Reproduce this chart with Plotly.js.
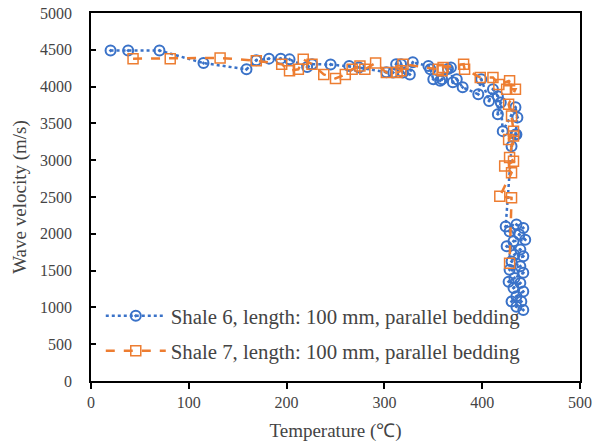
<!DOCTYPE html>
<html>
<head>
<meta charset="utf-8">
<script src="https://cdn.plot.ly/plotly-3.0.1.min.js"></script>
<style>html,body{margin:0;padding:0;background:#fff}#chart{width:604px;height:446px}</style>
</head>
<body>
<div id="chart"></div>
<script>
// Shale 6 (blue circles, dotted line)
const temp6 = [20,38,70,115,159,169,182,194,203,221,226,245,264,274,302,309,312,317,319,326,329,345,347,350,357,359,365,368,370,374,380,396,399,407,411,416,416,419,421,434,436,434,435,430,424,435,442,428,438,444,432,425,439,433,442,430,439,428,442,433,427,439,432,442,435,430,440,435,442];
const vel6  = [4490,4490,4490,4320,4235,4358,4380,4380,4370,4265,4305,4300,4280,4260,4195,4190,4305,4305,4190,4165,4330,4280,4235,4100,4080,4100,4240,4260,4060,4100,3990,3895,4100,3805,3965,3870,3625,3785,3395,3720,3580,3350,3350,3190,2100,2125,2080,2030,1990,1920,1900,1830,1785,1715,1695,1625,1560,1510,1470,1400,1350,1330,1265,1215,1150,1080,1080,1010,965];
// Shale 7 (orange squares, dashed line)
const temp7 = [43,81,132,169,195,203,212,217,226,238,250,260,267,275,280,291,302,313,317,319,355,359,360,381,382,398,411,417,428,425,434,427,430,432,427,432,428,432,423,430,418,430,428];
const vel7  = [4380,4380,4390,4350,4305,4215,4235,4370,4305,4165,4110,4165,4235,4280,4235,4320,4190,4190,4215,4305,4235,4215,4260,4305,4235,4125,4125,4030,4080,3965,3965,3760,3600,3395,3280,3330,3035,2985,2920,2830,2510,2490,1600];
const names = ["Shale 6, length: 100 mm, parallel bedding", "Shale 7, length: 100 mm, parallel bedding"];
const xTicks = [0,100,200,300,400,500];
const yTicks = [0,500,1000,1500,2000,2500,3000,3500,4000,4500,5000];
const xTitle = 'Temperature (\u2103)';
const yTitle = 'Wave velocity (m/s)';

const blue = '#3a72c8', orange = '#ED7D31';
const traces = [
  {x: temp6, y: vel6, name: names[0], type: 'scatter', mode: 'lines+markers', legendgroup: 'a',
   line: {color: blue, width: 2.5, dash: 'dot'},
   marker: {symbol: 'circle-open-dot', size: 10, color: blue, line: {width: 2, color: blue}}},
  {x: temp7, y: vel7, name: names[1], type: 'scatter', mode: 'lines+markers', legendgroup: 'b',
   line: {color: orange, width: 2.5, dash: 'dash'},
   marker: {symbol: 'square-open', size: 10, color: orange, line: {width: 1.5, color: orange}}}
];
const fam = 'Times New Roman';
const layout = {
  width: 604, height: 446,
  margin: {l: 91, r: 24, t: 13, b: 65},
  font: {family: fam, size: 16},
  showlegend: true,
  legend: {x: 0.02, y: 0.025, xanchor: 'left', yanchor: 'bottom', bgcolor: 'rgba(0,0,0,0)',
           font: {family: fam, size: 20.8}, traceorder: 'grouped', tracegroupgap: 5, itemwidth: 60},
  xaxis: {range: [0, 500], tickvals: xTicks, ticktext: xTicks.map(String), showgrid: false, zeroline: false,
          showline: true, linecolor: '#000', linewidth: 1.5, mirror: true,
          ticks: 'outside', ticklen: 6, tickwidth: 1.5, tickcolor: '#000',
          tickfont: {family: fam, size: 16},
          title: {text: xTitle, font: {family: fam, size: 19}, standoff: 14}},
  yaxis: {range: [0, 5000], tickvals: yTicks, ticktext: yTicks.map(String), showgrid: false, zeroline: false,
          showline: true, linecolor: '#000', linewidth: 1.5, mirror: true,
          ticks: 'inside', ticklen: 5, tickwidth: 1.5, tickcolor: '#000',
          tickfont: {family: fam, size: 16}, ticklabelstandoff: 14,
          title: {text: yTitle, font: {family: fam, size: 19}, standoff: 8}}
};
Plotly.newPlot('chart', traces, layout, {displayModeBar: false});
</script>
</body>
</html>
